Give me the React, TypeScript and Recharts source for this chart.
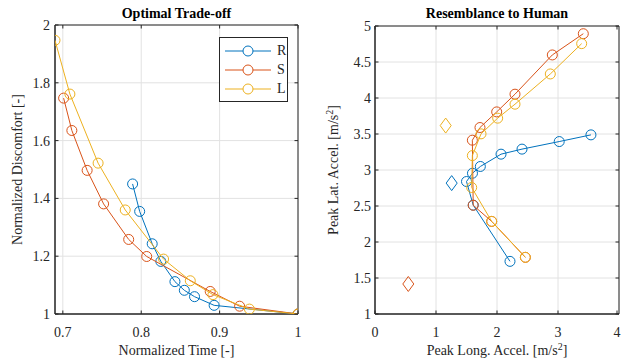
import React from "react"
import { ScatterChart, Scatter, XAxis, YAxis, CartesianGrid, ReferenceArea, Legend } from "recharts"

const BLUE = "#0072BD"
const RED = "#D95319"
const YELLOW = "#EDB120"
const INK = "#262626"
const GRID = "#e2e2e2"
const FONT = "Liberation Serif, Times New Roman, serif"

// Optimal trade-off (left)
const timeR = [0.789, 0.798, 0.814, 0.825, 0.843, 0.855, 0.868, 0.893, 1]
const discR = [1.45, 1.355, 1.243, 1.182, 1.112, 1.082, 1.06, 1.03, 1]
const timeS = [0.701, 0.7115, 0.731, 0.752, 0.784, 0.807, 0.888, 0.9255, 1]
const discS = [1.747, 1.635, 1.497, 1.381, 1.258, 1.199, 1.078, 1.027, 1]
const timeL = [0.69, 0.709, 0.745, 0.7796, 0.8285, 0.8626, 0.8915, 0.938, 1]
const discL = [1.947, 1.761, 1.522, 1.36, 1.19, 1.115, 1.067, 1.017, 1]

// Resemblance to human (right)
const longR = [3.54, 3.02, 2.41, 2.066, 1.727, 1.598, 1.5, 1.61, 2.213]
const latR = [3.488, 3.395, 3.29, 3.22, 3.049, 2.955, 2.84, 2.512, 1.731]
const longS = [3.415, 2.907, 2.295, 1.995, 1.721, 1.596, 1.61, 1.913, 2.465]
const latS = [4.893, 4.598, 4.053, 3.807, 3.59, 3.414, 2.51, 2.286, 1.787]
const longL = [3.388, 2.874, 2.295, 2.011, 1.738, 1.596, 1.585, 1.913, 2.465]
const latL = [4.755, 4.334, 3.914, 3.72, 3.502, 3.2, 2.757, 2.286, 1.787]

// human reference (diamonds)
const humanLong = [1.257, 0.546, 1.159]
const humanLat = [2.818, 1.417, 3.617]

const names = ["R", "S", "L"]
const colors = [BLUE, RED, YELLOW]

const xTicksL = [0.7, 0.8, 0.9, 1]
const yTicksL = [1, 1.2, 1.4, 1.6, 1.8, 2]
const xTicksR = [0, 1, 2, 3, 4]
const yTicksR = [1, 1.5, 2, 2.5, 3, 3.5, 4, 4.5, 5]

const zip = (xs: number[], ys: number[]) => xs.map((x, i) => ({ x, y: ys[i] }))

const leftSeries = [zip(timeR, discR), zip(timeS, discS), zip(timeL, discL)]
const rightSeries = [zip(longR, latR), zip(longS, latS), zip(longL, latL)]

const circle = (color: string) => (p: any) => (
  <circle cx={p.cx} cy={p.cy} r={5} fill="none" stroke={color} strokeWidth={1} />
)

const diamond = (color: string) => (p: any) => (
  <path
    d={`M${p.cx},${p.cy - 7.5} L${p.cx + 5.5},${p.cy} L${p.cx},${p.cy + 7.5} L${p.cx - 5.5},${p.cy} Z`}
    fill="none"
    stroke={color}
    strokeWidth={1}
  />
)

const TICK_LEN = 3.5

// x tick label + inward tick marks at bottom and top of the box
const makeXTick = (gap: number, top: number) => (p: any) => {
  const axisY = p.y - gap
  return (
    <g>
      <line x1={p.x} y1={axisY} x2={p.x} y2={axisY - TICK_LEN} stroke={INK} />
      <line x1={p.x} y1={top} x2={p.x} y2={top + TICK_LEN} stroke={INK} />
      <text x={p.x} y={p.y} dy="0.71em" textAnchor="middle" fontFamily={FONT} fontSize={14} fill={INK}>
        {p.payload.value}
      </text>
    </g>
  )
}

// y tick label + inward tick marks at left and right of the box
const makeYTick = (gap: number, right: number) => (p: any) => {
  const axisX = p.x + gap
  return (
    <g>
      <line x1={axisX} y1={p.y} x2={axisX + TICK_LEN} y2={p.y} stroke={INK} />
      <line x1={right} y1={p.y} x2={right - TICK_LEN} y2={p.y} stroke={INK} />
      <text x={p.x} y={p.y} dy="0.35em" textAnchor="end" fontFamily={FONT} fontSize={14} fill={INK}>
        {p.payload.value}
      </text>
    </g>
  )
}

function XTitle({ viewBox, text, sup }: any) {
  const x = viewBox.x + viewBox.width / 2
  const y = viewBox.y + viewBox.height
  return (
    <text x={x} y={y} textAnchor="middle" fontFamily={FONT} fontSize={14} fill={INK}>
      {text}
      {sup && (
        <>
          <tspan dy={-5} fontSize={10}>2</tspan>
          <tspan dy={5}>]</tspan>
        </>
      )}
    </text>
  )
}

function YTitle({ viewBox, text, sup, dx }: any) {
  const x = viewBox.x + dx
  const y = viewBox.y + viewBox.height / 2
  return (
    <text x={x} y={y} transform={`rotate(-90 ${x} ${y})`} textAnchor="middle" fontFamily={FONT} fontSize={14} fill={INK}>
      {text}
      {sup && (
        <>
          <tspan dy={-5} fontSize={10}>2</tspan>
          <tspan dy={5}>]</tspan>
        </>
      )}
    </text>
  )
}

function LegendBox() {
  return (
    <div style={{ border: `1px solid ${INK}`, background: "#fff", width: 67, padding: "3px 0", fontFamily: FONT, fontSize: 14, color: INK }}>
      {names.map((n, i) => (
        <div key={n} style={{ display: "flex", alignItems: "center", height: 19 }}>
          <svg width={52} height={12} style={{ marginLeft: 3 }}>
            <line x1={2} y1={6} x2={48} y2={6} stroke={colors[i]} strokeWidth={1} />
            <circle cx={25} cy={6} r={5} fill="#fff" stroke={colors[i]} />
          </svg>
          <span style={{ marginLeft: 2 }}>{n}</span>
        </div>
      ))}
    </div>
  )
}

const titleStyle: React.CSSProperties = {
  position: "absolute",
  top: 5,
  fontFamily: FONT,
  fontWeight: "bold",
  fontSize: 14,
  color: "#000",
  textAlign: "center",
  lineHeight: "18px",
}

export default function App() {
  return (
    <div style={{ position: "absolute", left: 0, top: 0, width: 621, height: 364, background: "#fff", fontFamily: FONT }}>
      <div style={{ ...titleStyle, left: 55, width: 243 }}>Optimal Trade-off</div>
      <div style={{ ...titleStyle, left: 375, width: 244 }}>Resemblance to Human</div>

      <div style={{ position: "absolute", left: 0, top: 0 }}>
        <ScatterChart width={310} height={364} margin={{ top: 25, right: 12, bottom: 9, left: 10 }}>
          <CartesianGrid stroke={GRID} />
          <XAxis
            type="number"
            dataKey="x"
            domain={[0.69, 1]}
            ticks={xTicksL}
            allowDataOverflow
            height={41}
            tickLine={false}
            tickSize={6}
            tickMargin={7}
            stroke={INK}
            tick={makeXTick(13, 25)}
            label={(p: any) => <XTitle {...p} text="Normalized Time [-]" />}
          />
          <YAxis
            type="number"
            dataKey="y"
            domain={[1, 2]}
            ticks={yTicksL}
            allowDataOverflow
            width={45}
            tickLine={false}
            tickSize={3}
            tickMargin={2}
            stroke={INK}
            tick={makeYTick(5, 298)}
            label={(p: any) => <YTitle {...p} dx={12} text="Normalized Discomfort [-]" />}
          />
          <ReferenceArea x1={0.69} x2={1} y1={1} y2={2} fill="none" stroke={INK} strokeOpacity={1} />
          {leftSeries.map((d, i) => (
            <Scatter
              key={names[i]}
              name={names[i]}
              data={d}
              line={{ stroke: colors[i], strokeWidth: 1 }}
              lineType="joint"
              shape={circle(colors[i])}
              isAnimationActive={false}
            />
          ))}
          <Legend
            layout="vertical"
            align="center"
            verticalAlign="middle"
            content={() => <LegendBox />}
            wrapperStyle={{ left: 219, top: 37, width: 69 }}
          />
        </ScatterChart>
      </div>

      <div style={{ position: "absolute", left: 310, top: 0 }}>
        <ScatterChart width={311} height={364} margin={{ top: 26, right: 2, bottom: 9, left: 15 }}>
          <CartesianGrid stroke={GRID} />
          <XAxis
            type="number"
            dataKey="x"
            domain={[0, 4]}
            ticks={xTicksR}
            allowDataOverflow
            height={41}
            tickLine={false}
            tickSize={6}
            tickMargin={7}
            stroke={INK}
            tick={makeXTick(13, 26)}
            label={(p: any) => <XTitle {...p} text="Peak Long. Accel. [m/s" sup />}
          />
          <YAxis
            type="number"
            dataKey="y"
            domain={[1, 5]}
            ticks={yTicksR}
            allowDataOverflow
            width={50}
            tickLine={false}
            tickSize={2}
            tickMargin={2}
            stroke={INK}
            tick={makeYTick(4, 309)}
            label={(p: any) => <YTitle {...p} dx={13} text="Peak Lat. Accel. [m/s" sup />}
          />
          <ReferenceArea x1={0} x2={4} y1={1} y2={5} fill="none" stroke={INK} strokeOpacity={1} />
          {rightSeries.map((d, i) => (
            <Scatter
              key={names[i]}
              name={names[i]}
              data={d}
              line={{ stroke: colors[i], strokeWidth: 1 }}
              lineType="joint"
              shape={circle(colors[i])}
              isAnimationActive={false}
            />
          ))}
          {humanLong.map((x, i) => (
            <Scatter
              key={"h" + names[i]}
              name={"human " + names[i]}
              data={[{ x, y: humanLat[i] }]}
              shape={diamond(colors[i])}
              isAnimationActive={false}
            />
          ))}
        </ScatterChart>
      </div>
    </div>
  )
}
